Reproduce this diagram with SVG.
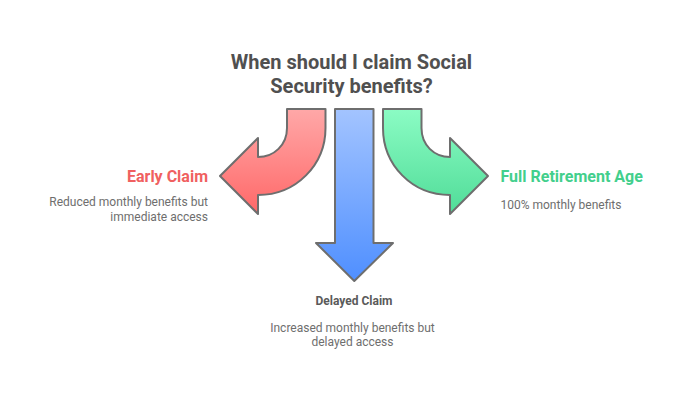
<svg xmlns="http://www.w3.org/2000/svg" width="700" height="400" viewBox="0 0 700 400">
<style>
text{font-family:Roboto,"Liberation Sans",sans-serif}
.a{stroke:#6e6e6e;stroke-width:2;stroke-linejoin:round}
.t{font-size:20px;font-weight:700;fill:#505050;text-anchor:middle}
.h{font-size:16px;font-weight:700}
.d{font-size:12px;fill:#6e6e6e}
</style>
<defs>
<linearGradient id="r" x1="0" y1="0" x2="0" y2="1"><stop offset="0" stop-color="#ffa8a8"/><stop offset="1" stop-color="#ff6868"/></linearGradient>
<linearGradient id="b" x1="0" y1="0" x2="0" y2="1"><stop offset="0" stop-color="#a3c4ff"/><stop offset="1" stop-color="#4f8fff"/></linearGradient>
<linearGradient id="g" x1="0" y1="0" x2="0" y2="1"><stop offset="0" stop-color="#8bfcc4"/><stop offset="1" stop-color="#50dc98"/></linearGradient>
</defs>
<g id="title"><text class="t" x="351.500" y="69">When should I claim Social</text><text class="t" x="351.500" y="93">Security benefits?</text></g>
<g id="connectors">
<path class="a" fill="url(#r)" d="M325.500 109H287V128C287 145 274 157 258 157V138L220 176L258 214V195C296 195 325.500 165 325.500 128Z"/>
<path class="a" fill="url(#b)" d="M335 109H373.500V243H393L354.300 281L316 243H335Z"/>
<path class="a" fill="url(#g)" d="M383 109H421.500V128C421.500 145 434 157 450 157V138L488 176L450 214V195C412 195 383 165 383 128Z"/>
</g>
<g id="early-claim"><text class="h" x="208" y="182" text-anchor="end" fill="#f06060">Early Claim</text><text class="d" x="208" y="206" text-anchor="end">Reduced monthly benefits but</text><text class="d" x="208" y="221" text-anchor="end">immediate access</text></g>
<g id="delayed-claim"><text x="354" y="305" text-anchor="middle" font-size="12" font-weight="700" fill="#5a5a5a">Delayed Claim</text><text class="d" x="352.500" y="332" text-anchor="middle">Increased monthly benefits but</text><text class="d" x="352.500" y="346" text-anchor="middle">delayed access</text></g>
<g id="full-retirement-age"><text class="h" x="500.500" y="182" fill="#42cf8c">Full Retirement Age</text><text class="d" x="500.500" y="209">100% monthly benefits</text></g>
</svg>
